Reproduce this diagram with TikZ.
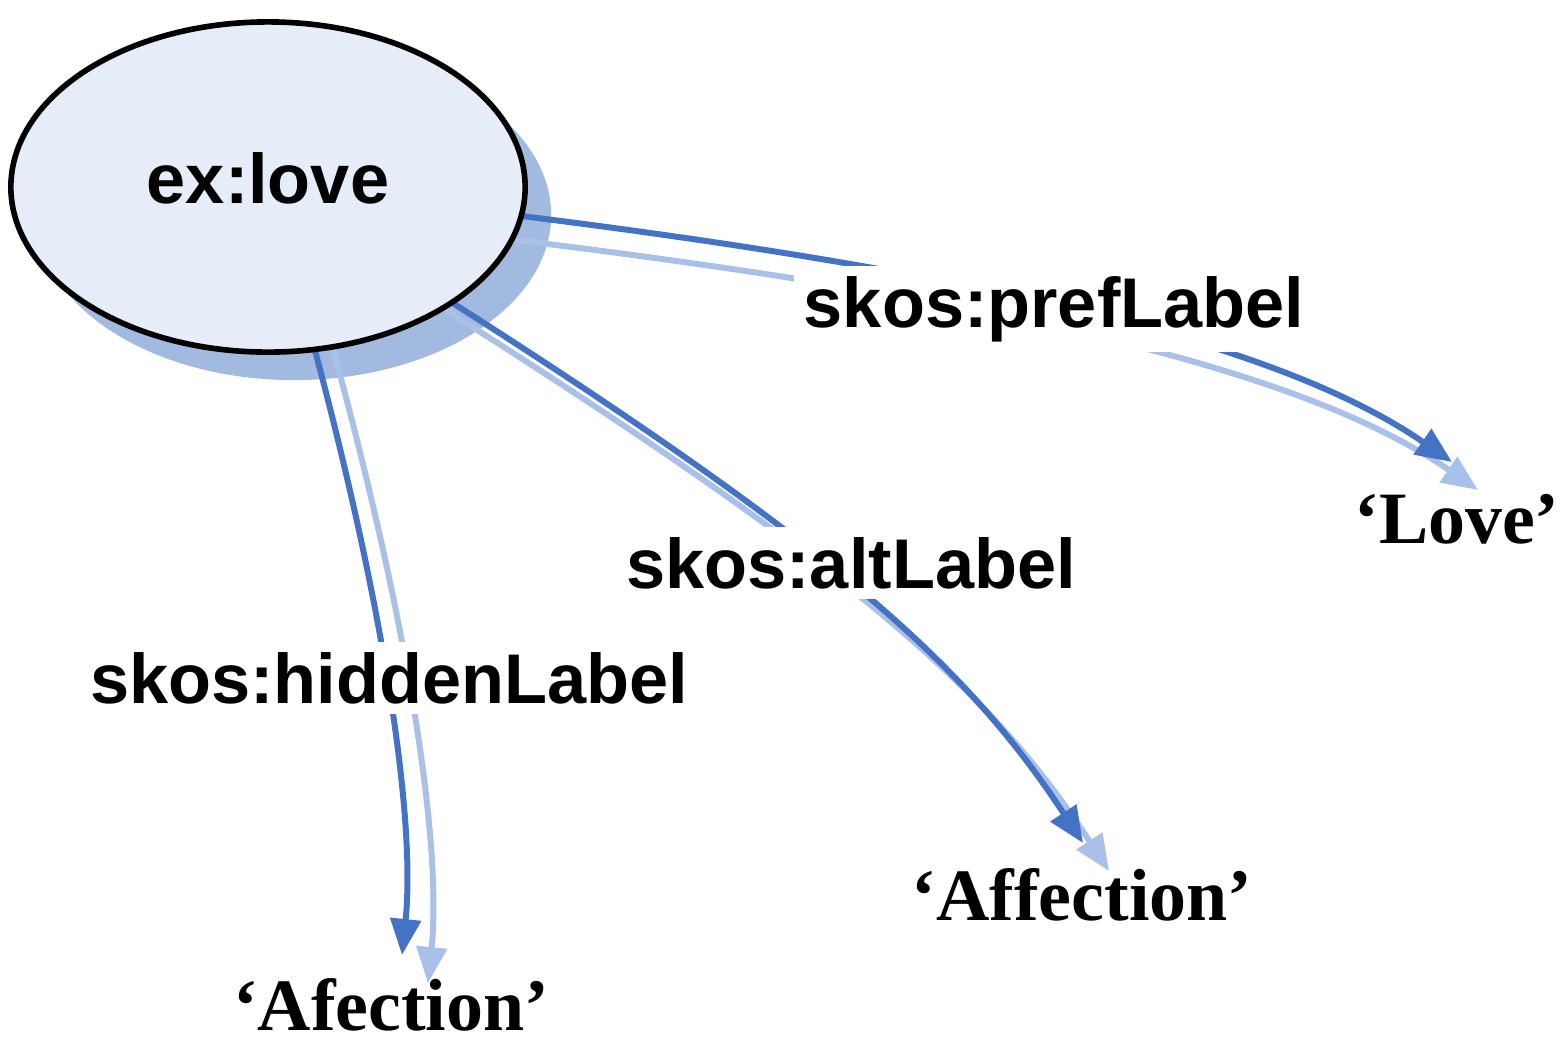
\documentclass[tikz,border=0pt]{standalone}
\usepackage{fontspec}
\setmainfont{Liberation Serif}
\setsansfont{Liberation Sans}
\usetikzlibrary{arrows.meta,shapes.geometric}
\pgfdeclarelayer{back}
\pgfdeclarelayer{edges}
\pgfsetlayers{back,edges,main}
\definecolor{linkblue}{HTML}{4472C4}
\definecolor{linkshade}{HTML}{A9C1E8}
\definecolor{nodefill}{HTML}{E6EDF8}
\definecolor{nodeshade}{HTML}{A3BAE0}
\begin{document}
\begin{tikzpicture}[x=0.01cm,y=-0.01cm,
  concept/.style={ellipse,minimum width=5.14cm,minimum height=3.3cm,inner sep=0pt,
    text depth=0.18cm,fill=nodefill,draw=black,line width=1.6pt,
    font=\sffamily\bfseries\fontsize{20}{24}\selectfont},
  prop/.style={fill=white,inner sep=0.1cm,anchor=base,
    font=\sffamily\bfseries\fontsize{20}{24}\selectfont},
  literal/.style={anchor=base,font=\rmfamily\bfseries\fontsize{21}{25}\selectfont},
  edgeline/.style={draw=linkblue,line width=1.7pt,-{Triangle[length=0.36cm,width=0.3cm]}},
  edgeshade/.style={draw=linkshade,line width=1.7pt,-{Triangle[length=0.36cm,width=0.3cm]}}]
  \useasboundingbox (0,0) rectangle (1567,1041);
  % concept and its labels
  \node[concept] (love) at (268,187) {ex:love};
  \node[prop] (preflbl) at (1054,327) {skos:prefLabel};
  \node[prop] (altlbl) at (851,588) {skos:altLabel};
  \node[prop] (hiddenlbl) at (389,703) {skos:hiddenLabel};
  \node[literal] (lovelit) at (1457,543) {`Love'};
  \node[literal] (affectlit) at (1082,920) {`Affection'};
  \node[literal] (afectlit) at (391,1030) {`Afection'};
  \coordinate (lovetip) at (1452,462);
  \coordinate (affecttip) at (1083,843);
  \coordinate (afecttip) at (402,955);
  \begin{pgfonlayer}{back}
    \fill[white] (0,0) rectangle (1567,1041);
    \fill[nodeshade] ([shift={(26,28)}]love.center) ellipse [x radius=2.57cm,y radius=1.65cm];
  \end{pgfonlayer}
  \begin{pgfonlayer}{edges}
  % shadow first, then the line
  \foreach \dx/\dy/\sty in {26/28/edgeshade,0/0/edgeline} {
    \draw[\sty] ([shift={(\dx,\dy)}]love.center) .. controls ([shift={(\dx,\dy)}]868,250)
      and ([shift={(\dx,\dy)}]1252,324) .. ([shift={(\dx,\dy)}]lovetip);
    \draw[\sty] ([shift={(\dx,\dy)}]love.center) .. controls ([shift={(\dx,\dy)}]790,510)
      and ([shift={(\dx,\dy)}]950,640) .. ([shift={(\dx,\dy)}]affecttip);
    \draw[\sty] ([shift={(\dx,\dy)}]love.center) .. controls ([shift={(\dx,\dy)}]370,520)
      and ([shift={(\dx,\dy)}]418,800) .. ([shift={(\dx,\dy)}]afecttip);
  }
  \end{pgfonlayer}
\end{tikzpicture}
\end{document}
